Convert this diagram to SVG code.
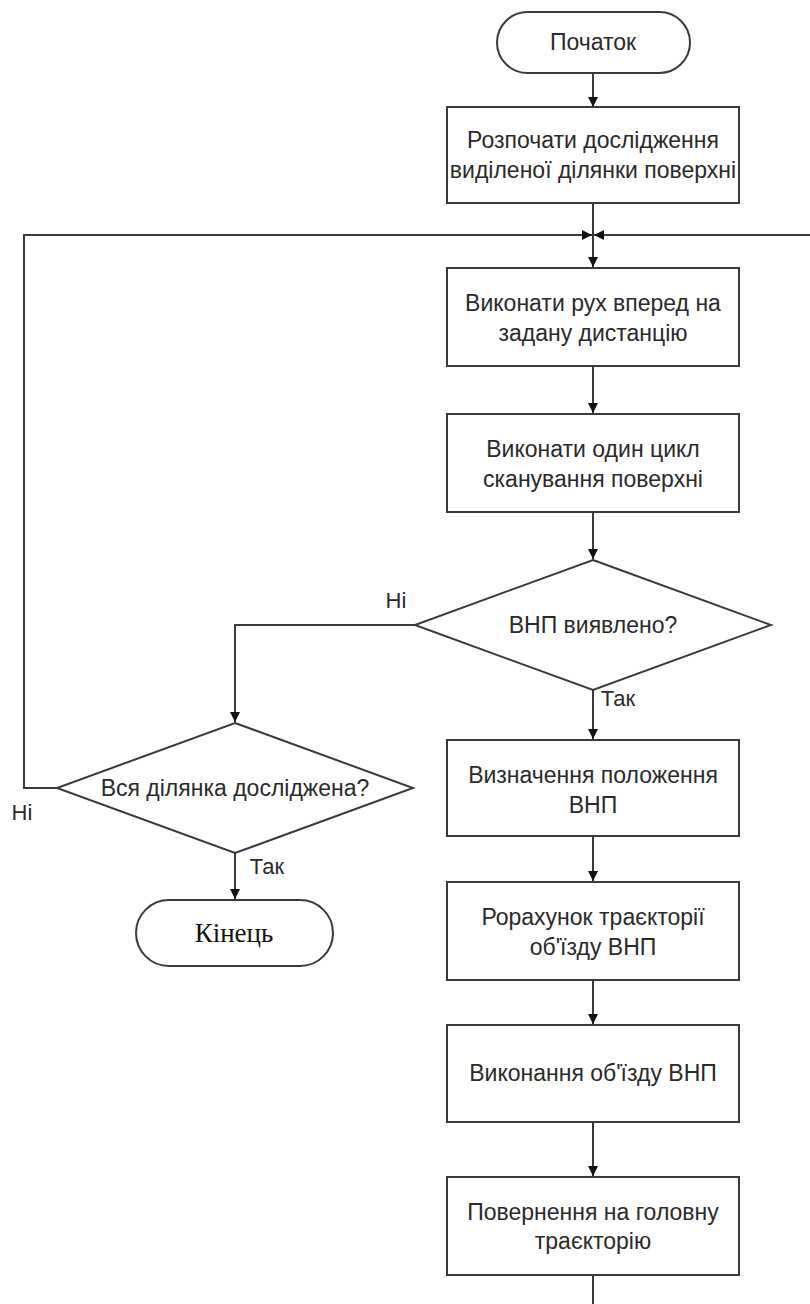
<svg xmlns="http://www.w3.org/2000/svg" width="810" height="1304" viewBox="0 0 810 1304">
  <defs>
    <marker id="arrow" viewBox="0 0 10 10" refX="10" refY="5" markerWidth="10" markerHeight="10" markerUnits="userSpaceOnUse" orient="auto">
      <path d="M0,0 L10,5 L0,10 Z" fill="#111"/>
    </marker>
    <style>
      .shape { fill: #fff; stroke: #3a3a3a; stroke-width: 2; }
      .edge { fill: none; stroke: #3a3a3a; stroke-width: 2; }
      .arrow { marker-end: url(#arrow); }
      .txt { font-family: "Liberation Sans", Arial, sans-serif; font-size: 23px; fill: #2a2a2a; text-anchor: middle; dominant-baseline: central; }
      .lbl { font-family: "Liberation Sans", Arial, sans-serif; font-size: 22px; fill: #2a2a2a; text-anchor: middle; dominant-baseline: central; }
      .serif { font-family: "Liberation Serif", "Times New Roman", serif; font-size: 27px; fill: #111; text-anchor: middle; dominant-baseline: central; }
    </style>
  </defs>

  <!-- connectors -->
  <g id="connectors">
    <line class="edge arrow" x1="593" y1="73" x2="593" y2="107"/>
    <line class="edge" x1="593" y1="203" x2="593" y2="235"/>
    <line class="edge arrow" x1="593" y1="235" x2="593" y2="267"/>
    <!-- loop back from the left decision -->
    <polyline class="edge arrow" points="57,788 24,788 24,235 592,235"/>
    <!-- loop back from the bottom of the main column -->
    <polyline class="edge arrow" points="812,235 594,235"/>
    <line class="edge arrow" x1="593" y1="366" x2="593" y2="413"/>
    <line class="edge arrow" x1="593" y1="512" x2="593" y2="559"/>
    <!-- ВНП not found -->
    <polyline class="edge arrow" points="415,625 235,625 235,722"/>
    <!-- ВНП found -->
    <line class="edge arrow" x1="593" y1="690" x2="593" y2="739"/>
    <line class="edge arrow" x1="593" y1="836" x2="593" y2="881"/>
    <line class="edge arrow" x1="593" y1="980" x2="593" y2="1024"/>
    <line class="edge arrow" x1="593" y1="1122" x2="593" y2="1176"/>
    <line class="edge" x1="593" y1="1275" x2="593" y2="1306"/>
    <!-- whole area explored -->
    <line class="edge arrow" x1="235" y1="853" x2="235" y2="899"/>

    <text class="lbl" x="396" y="600">Ні</text>
    <text class="lbl" x="618" y="698">Так</text>
    <text class="lbl" x="22" y="812">Ні</text>
    <text class="lbl" x="267" y="866">Так</text>
  </g>

  <g id="start">
    <rect class="shape" x="497" y="12" width="193" height="61" rx="30.5"/>
    <text class="txt" x="593" y="42">Початок</text>
  </g>

  <g id="begin-survey">
    <rect class="shape" x="447" y="107" width="292" height="96"/>
    <text class="txt" x="593" y="140">Розпочати дослідження</text>
    <text class="txt" x="593" y="170">виділеної ділянки поверхні</text>
  </g>

  <g id="move-forward">
    <rect class="shape" x="447" y="268" width="292" height="98"/>
    <text class="txt" x="593" y="303">Виконати рух вперед на</text>
    <text class="txt" x="593" y="333">задану дистанцію</text>
  </g>

  <g id="scan-cycle">
    <rect class="shape" x="447" y="414" width="292" height="98"/>
    <text class="txt" x="593" y="449">Виконати один цикл</text>
    <text class="txt" x="593" y="479">сканування поверхні</text>
  </g>

  <g id="obstacle-check">
    <polygon class="shape" points="593,560 771,625 593,690 415,625"/>
    <text class="txt" x="593" y="625">ВНП виявлено?</text>
  </g>

  <g id="area-check">
    <polygon class="shape" points="235,723 413,788 235,853 57,788"/>
    <text class="txt" x="235" y="788">Вся ділянка досліджена?</text>
  </g>

  <g id="end">
    <rect class="shape" x="136" y="900" width="197" height="66" rx="33"/>
    <text class="serif" x="234" y="933">Кінець</text>
  </g>

  <g id="locate-obstacle">
    <rect class="shape" x="447" y="740" width="292" height="96"/>
    <text class="txt" x="593" y="775">Визначення положення</text>
    <text class="txt" x="593" y="805">ВНП</text>
  </g>

  <g id="plan-detour">
    <rect class="shape" x="447" y="882" width="292" height="98"/>
    <text class="txt" x="593" y="917">Рорахунок траєкторії</text>
    <text class="txt" x="593" y="947">об'їзду ВНП</text>
  </g>

  <g id="detour">
    <rect class="shape" x="447" y="1025" width="292" height="97"/>
    <text class="txt" x="593" y="1073">Виконання об'їзду ВНП</text>
  </g>

  <g id="return-to-path">
    <rect class="shape" x="447" y="1177" width="292" height="98"/>
    <text class="txt" x="593" y="1212">Повернення на головну</text>
    <text class="txt" x="593" y="1241">траєкторію</text>
  </g>
</svg>
